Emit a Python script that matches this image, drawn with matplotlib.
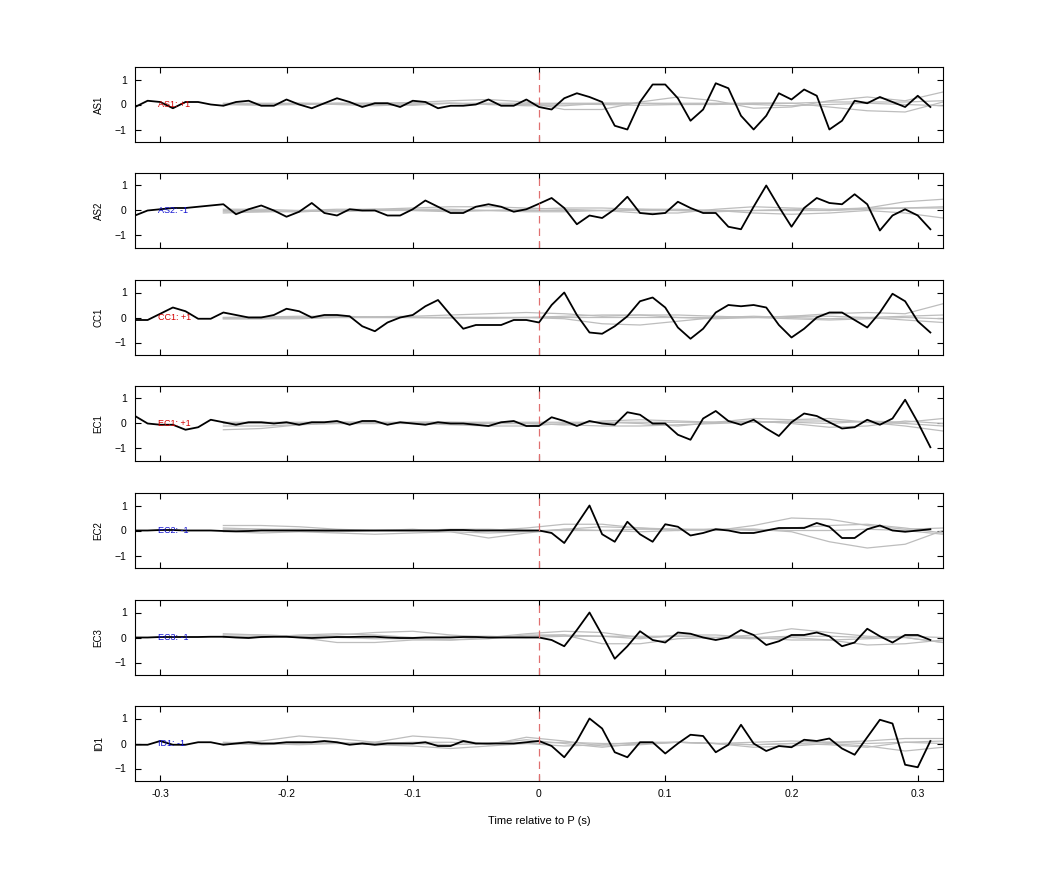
import numpy as np
import matplotlib
matplotlib.use('Agg')
import matplotlib.pyplot as plt

plt.rcParams['font.family'] = ['Liberation Sans', 'DejaVu Sans']

# time axis of the stacked traces (s)
t = np.round(np.arange(-0.32, 0.315, 0.01), 3)
# time axis of the gray reference traces
tg = np.round(np.arange(-0.25, 0.321, 0.03), 3)

stations = ['AS1', 'AS2', 'CC1', 'EC1', 'EC2', 'EC3', 'ID1']
polarity = ['+1', '-1', '+1', '+1', '-1', '-1', '-1']

traces = {
    'AS1': [-0.1, 0.15, 0.1, -0.15, 0.1, 0.1, 0.0, -0.05, 0.1, 0.15, -0.05, -0.05, 0.2, 0.0, -0.15, 0.05,
            0.25, 0.1, -0.1, 0.05, 0.05, -0.1, 0.15, 0.1, -0.15, -0.05, -0.05, 0.0, 0.2, -0.05, -0.05, 0.2,
            -0.1, -0.2, 0.25, 0.45, 0.3, 0.1, -0.85, -1.0, 0.1, 0.8, 0.8, 0.25, -0.65, -0.2, 0.85, 0.65,
            -0.45, -1.0, -0.45, 0.45, 0.2, 0.6, 0.35, -1.0, -0.65, 0.15, 0.05, 0.3, 0.1, -0.1, 0.35, -0.1],
    'AS2': [-0.2, 0.0, 0.05, 0.1, 0.1, 0.15, 0.2, 0.25, -0.15, 0.05, 0.2, 0.0, -0.25, -0.05, 0.3, -0.1,
            -0.2, 0.05, 0.0, 0.0, -0.2, -0.2, 0.05, 0.4, 0.15, -0.1, -0.1, 0.15, 0.25, 0.15, -0.05, 0.05,
            0.27, 0.5, 0.1, -0.55, -0.2, -0.3, 0.05, 0.55, -0.1, -0.15, -0.1, 0.35, 0.1, -0.1, -0.1, -0.65,
            -0.75, 0.15, 1.0, 0.15, -0.65, 0.1, 0.5, 0.3, 0.25, 0.65, 0.25, -0.8, -0.2, 0.05, -0.2, -0.75],
    'CC1': [-0.1, -0.1, 0.15, 0.4, 0.25, -0.05, -0.05, 0.2, 0.1, 0.0, 0.0, 0.1, 0.35, 0.25, 0.0, 0.1,
            0.1, 0.05, -0.35, -0.55, -0.2, 0.0, 0.1, 0.45, 0.7, 0.1, -0.45, -0.3, -0.3, -0.3, -0.1, -0.1,
            -0.2, 0.5, 1.0, 0.1, -0.6, -0.65, -0.35, 0.05, 0.65, 0.8, 0.4, -0.4, -0.85, -0.45, 0.2, 0.5,
            0.45, 0.5, 0.4, -0.3, -0.8, -0.45, 0.0, 0.2, 0.2, -0.1, -0.4, 0.2, 0.95, 0.65, -0.15, -0.6],
    'EC1': [0.3, 0.0, -0.05, -0.05, -0.25, -0.15, 0.15, 0.05, -0.05, 0.05, 0.05, 0.0, 0.05, -0.05, 0.05, 0.05,
            0.1, -0.05, 0.1, 0.1, -0.05, 0.05, 0.0, -0.05, 0.05, 0.0, 0.0, -0.05, -0.1, 0.05, 0.1, -0.1,
            -0.1, 0.25, 0.1, -0.1, 0.1, 0.0, -0.05, 0.45, 0.35, 0.0, 0.0, -0.45, -0.65, 0.2, 0.5, 0.1,
            -0.05, 0.15, -0.2, -0.5, 0.05, 0.4, 0.3, 0.05, -0.2, -0.15, 0.15, -0.05, 0.2, 0.95, 0.05, -0.95],
    'EC2': [0.0, 0.0, 0.02, 0.02, 0.0, 0.0, 0.0, -0.02, -0.03, -0.02, 0.0, 0.0, 0.0, 0.0, 0.0, 0.0,
            0.0, 0.0, 0.0, 0.0, 0.0, 0.0, 0.0, 0.0, 0.0, 0.02, 0.02, 0.0, 0.0, 0.0, 0.0, 0.0,
            0.0, -0.1, -0.5, 0.25, 1.0, -0.15, -0.45, 0.35, -0.15, -0.45, 0.25, 0.15, -0.2, -0.1, 0.05, 0.0,
            -0.1, -0.1, 0.0, 0.1, 0.1, 0.1, 0.3, 0.15, -0.3, -0.3, 0.05, 0.2, 0.0, -0.05, 0.0, 0.05],
    'EC3': [0.0, 0.0, 0.02, 0.02, 0.02, 0.02, 0.03, 0.03, 0.0, -0.02, 0.02, 0.03, 0.03, 0.0, -0.02, 0.0,
            0.02, 0.02, 0.03, 0.03, 0.0, -0.02, -0.02, 0.0, 0.0, 0.0, 0.02, 0.02, 0.0, 0.0, 0.0, 0.0,
            0.0, -0.1, -0.35, 0.3, 1.0, 0.1, -0.85, -0.35, 0.25, -0.1, -0.2, 0.2, 0.15, 0.0, -0.1, 0.0,
            0.3, 0.1, -0.3, -0.15, 0.1, 0.1, 0.2, 0.05, -0.35, -0.2, 0.35, 0.05, -0.2, 0.1, 0.1, -0.1],
    'ID1': [-0.05, -0.05, 0.1, -0.05, -0.05, 0.05, 0.05, -0.05, 0.0, 0.05, 0.0, 0.0, 0.05, 0.05, 0.05, 0.1,
            0.05, -0.05, 0.0, -0.05, 0.0, 0.0, 0.0, 0.05, -0.1, -0.1, 0.1, 0.0, 0.0, 0.0, 0.0, 0.05,
            0.1, -0.1, -0.55, 0.1, 1.0, 0.6, -0.35, -0.55, 0.05, 0.05, -0.4, 0.0, 0.35, 0.3, -0.35, -0.05,
            0.75, 0.0, -0.3, -0.1, -0.15, 0.15, 0.1, 0.2, -0.2, -0.45, 0.25, 0.95, 0.8, -0.85, -0.95, 0.1],
}

# gray reference traces, sampled on tg
refs = {
    'AS1': [[0, 0.02, 0, 0.03, 0.05, 0.08, 0.15, 0.2, 0.1, -0.2, -0.2, 0.1, 0.3, 0.15, -0.15, -0.1, 0.15, 0.3, 0.15, 0.5],
            [0, 0, 0.05, 0, -0.05, 0, 0.05, 0, -0.05, -0.05, 0.05, 0.05, 0, 0, 0.05, 0.05, -0.1, -0.25, -0.3, 0.1],
            [0.05, 0.05, 0.05, 0.05, 0.05, 0.05, 0.05, 0.05, 0.05, 0.05, 0.05, 0.05, 0.05, 0.05, 0.05, 0.05, 0.1, 0.1, 0.1, 0.15],
            [0, -0.03, 0, 0.05, 0, -0.03, 0.05, 0, 0, 0.02, 0, -0.03, 0, 0.03, 0, -0.05, 0, 0.05, 0, -0.05]],
    'AS2': [[-0.1, -0.05, 0, 0.05, 0.05, 0.1, 0.15, 0.15, 0.1, 0.05, 0, -0.1, -0.1, 0.05, 0.15, 0.1, 0.05, 0.1, 0.35, 0.45],
            [0, 0, -0.05, 0, 0.05, 0, -0.05, 0, 0.05, 0.1, 0.1, 0.05, 0, -0.05, 0, 0.05, 0, 0.1, 0.1, 0.1],
            [-0.05, -0.05, -0.05, 0, 0, 0, 0, 0, 0, 0, 0, 0, 0, 0, 0, 0, 0, 0.05, 0.1, 0.15],
            [0.05, 0.05, 0, -0.05, 0, 0.05, 0.05, 0, -0.05, -0.05, 0, 0.05, 0.05, 0, -0.1, -0.15, -0.1, 0, -0.1, -0.3]],
    'CC1': [[0, 0, 0, 0.02, 0.03, 0.05, 0.1, 0.15, 0.2, 0.15, 0.05, 0.1, 0.1, 0.05, 0, 0.05, 0.15, 0.2, 0.15, 0.55],
            [-0.05, -0.05, 0, 0, 0, 0, 0, 0, 0, -0.05, -0.25, -0.3, -0.15, 0, 0.05, 0, -0.05, 0, 0.05, 0.1],
            [0, 0.02, 0.05, 0.05, 0.02, 0, -0.02, -0.03, 0, 0.05, 0.1, 0.1, 0, -0.05, 0, 0.05, 0.05, 0, -0.1, -0.2],
            [-0.05, -0.05, -0.05, 0, 0, 0, 0, 0, 0, 0, 0, 0, 0, 0, 0, -0.05, -0.1, -0.05, 0, -0.05]],
    'EC1': [[-0.25, -0.2, -0.05, 0.0, 0.0, 0.05, 0.05, 0.0, 0.0, -0.05, 0.1, 0.15, 0.1, 0.05, 0.2, 0.15, 0.2, 0.05, -0.1, -0.3],
            [-0.1, -0.1, -0.05, 0.05, 0.05, 0, -0.05, -0.1, -0.1, 0.0, 0.05, 0.0, -0.1, 0.05, 0.1, 0.0, -0.15, -0.1, 0.1, 0.0],
            [0.05, 0.05, 0.05, 0.05, 0.05, 0.05, 0.05, 0.05, 0.05, 0.05, 0.05, 0.05, 0.05, 0.05, 0.05, 0.1, 0.1, 0.05, 0.0, -0.1],
            [0.0, 0.0, 0.0, 0.0, 0.0, 0.0, 0.0, 0.0, 0.0, -0.05, -0.1, -0.1, -0.05, 0.0, 0.05, 0.05, 0.0, 0.1, 0.05, 0.2]],
    'EC2': [[0.2, 0.2, 0.15, 0.05, 0, 0, 0, 0, 0.1, 0.25, 0.25, 0.1, 0.05, 0, 0.2, 0.5, 0.45, 0.2, 0.05, 0.1],
            [-0.05, -0.1, -0.05, -0.1, -0.15, -0.1, -0.05, -0.1, -0.05, 0.05, 0.15, 0.1, 0.0, 0.05, 0.05, -0.05, -0.45, -0.7, -0.55, 0.0],
            [0.05, 0.05, 0.05, 0.0, 0.0, 0.0, 0.05, 0.05, 0.0, 0.0, 0.0, 0.05, 0.05, 0.05, 0.0, 0.1, 0.2, 0.25, 0.1, -0.1],
            [0.1, 0.05, 0.0, -0.05, 0.0, 0.05, -0.05, -0.3, -0.1, 0.05, 0.0, -0.05, 0.0, 0.05, 0.05, 0.0, 0.0, 0.05, 0.0, -0.15]],
    'EC3': [[0.15, 0.1, 0.05, 0.1, 0.2, 0.25, 0.1, 0.0, 0.15, 0.25, 0.2, 0.0, 0.05, 0.0, 0.1, 0.35, 0.2, 0.05, 0.0, -0.2],
            [0.0, 0.05, 0.0, -0.2, -0.2, -0.1, -0.1, 0.0, 0.05, 0.1, -0.25, -0.25, -0.05, 0.0, -0.05, 0.0, -0.1, -0.3, -0.25, -0.1],
            [0.05, 0.0, 0.1, 0.15, 0.1, 0.0, 0.05, 0.05, 0.0, 0.05, 0.05, 0.05, 0.05, 0.0, 0.0, 0.05, 0.05, 0.0, 0.05, 0.0],
            [0.1, 0.1, 0.05, 0.0, -0.05, -0.05, -0.1, -0.05, 0.1, 0.1, 0.05, -0.05, 0.1, 0.1, 0.0, -0.1, -0.1, -0.05, 0.0, -0.2]],
    'ID1': [[0.0, 0.1, 0.3, 0.2, 0.05, 0.3, 0.2, -0.05, 0.25, 0.1, -0.1, -0.05, 0.05, 0.0, -0.15, -0.1, 0.0, -0.1, -0.3, -0.15],
            [0.0, -0.05, 0.0, 0.05, -0.05, -0.1, -0.2, -0.1, 0.0, -0.1, -0.05, 0.05, 0.05, 0.0, -0.05, 0.0, 0.05, 0.0, 0.05, 0.0],
            [0.0, 0.0, 0.05, 0.0, 0.0, 0.05, 0.05, 0.0, 0.0, 0.05, 0.0, 0.0, 0.05, 0.0, 0.05, 0.1, 0.05, 0.1, 0.2, 0.2],
            [0.05, 0.0, -0.05, 0.0, 0.05, 0.0, -0.05, 0.0, 0.15, 0.0, -0.15, 0.0, 0.05, 0.0, -0.05, 0.0, -0.05, -0.15, 0.05, 0.1]],
}

label_color = {'+1': '#d40000', '-1': '#1010d0'}

fig = plt.figure(figsize=(10.42, 8.75), dpi=100)
left, width = 135 / 1042, (943 - 135) / 1042
tops = [67, 173, 280, 386, 493, 600, 706]
h = 75

for i, st in enumerate(stations):
    ax = fig.add_axes([left, 1 - (tops[i] + h) / 875, width, h / 875])
    for g in refs[st]:
        ax.plot(tg, g, color='#bdbdbd', lw=0.9)
    ax.plot(t, traces[st], color='black', lw=1.3)
    ax.axvline(0, color='#e07070', lw=0.9, ls=(0, (6, 4)))
    ax.text(-0.302, 0, '%s: %s' % (st, polarity[i]), color=label_color[polarity[i]],
            fontsize=6.5, va='center', ha='left')
    ax.set_xlim(-0.32, 0.32)
    ax.set_ylim(-1.5, 1.5)
    ax.set_yticks([-1, 0, 1])
    ax.set_xticks([-0.3, -0.2, -0.1, 0, 0.1, 0.2, 0.3])
    ax.tick_params(direction='in', top=True, right=True, labelsize=7.5, length=4, width=0.8, pad=6)
    ax.set_ylabel(st, fontsize=7, labelpad=8)
    for s in ax.spines.values():
        s.set_linewidth(0.8)
    if i < len(stations) - 1:
        ax.set_xticklabels([])
    else:
        ax.set_xticklabels(['-0.3', '-0.2', '-0.1', '0', '0.1', '0.2', '0.3'])
        ax.set_xlabel('Time relative to P (s)', fontsize=8, labelpad=12)

fig.savefig('out.png', dpi=100)
